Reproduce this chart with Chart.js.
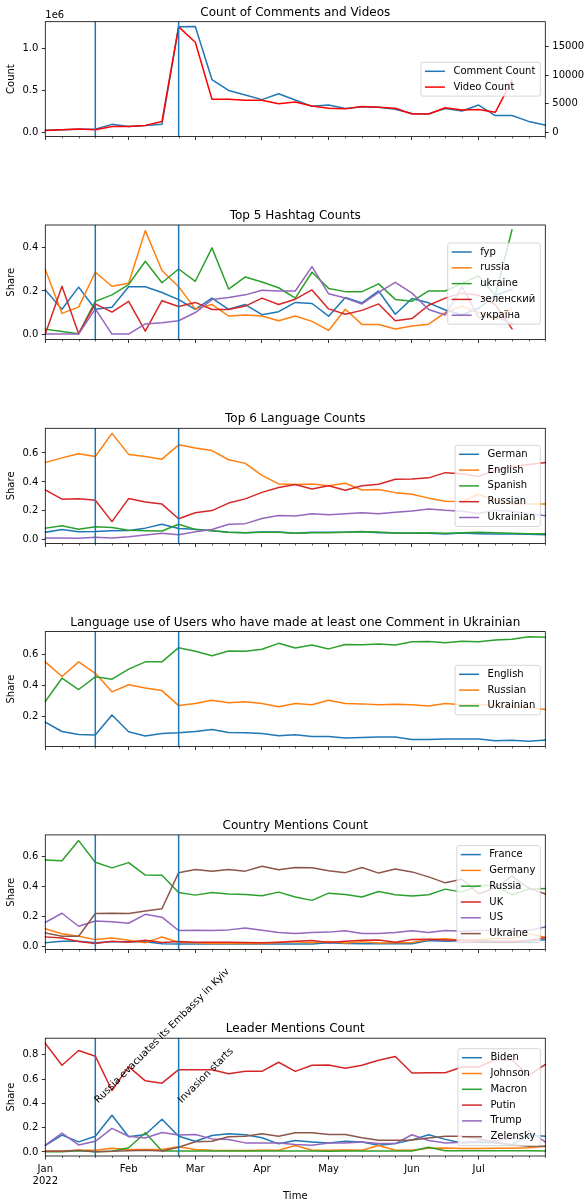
<!DOCTYPE html>
<html>
<head>
<meta charset="utf-8">
<script src="https://cdn.jsdelivr.net/npm/chart.js@4/dist/chart.umd.min.js"></script>
<style>
  html, body { margin: 0; padding: 0; background: #fff; }
  #fig { position: relative; width: 586px; height: 1203px; overflow: hidden; background: #fff; }
  #fig canvas { position: absolute; left: 0; }
</style>
</head>
<body>
<div id="fig"></div>
<script>
// weekly periods (Mon-Sun), first day of each week
const weeks = ['2021-12-27', '2022-01-03', '2022-01-10', '2022-01-17', '2022-01-24', '2022-01-31',
  '2022-02-07', '2022-02-14', '2022-02-21', '2022-02-28', '2022-03-07', '2022-03-14', '2022-03-21',
  '2022-03-28', '2022-04-04', '2022-04-11', '2022-04-18', '2022-04-25', '2022-05-02', '2022-05-09',
  '2022-05-16', '2022-05-23', '2022-05-30', '2022-06-06', '2022-06-13', '2022-06-20', '2022-06-27',
  '2022-07-04', '2022-07-11', '2022-07-18', '2022-07-25'];
const monthTickIdx = [0, 5, 9, 13, 17, 22, 26];
const monthTickText = [['Jan', '2022'], 'Feb', 'Mar', 'Apr', 'May', 'Jun', 'Jul'];
const eventWeeks = [3, 8];
const eventText = ['Russia evacuates its Embassy in Kyiv', 'Invasion starts'];

// panel 1
const commentCount = [25000, 30000, 38000, 38000, 95000, 70000, 80000, 97000, 1260000, 1262000, 630000, 500000, 445000,
  390000, 460000, 385000, 310000, 325000, 285000, 305000, 300000, 275000, 225000, 220000, 285000, 255000, 325000,
  200000, 200000, 130000, 85000];
const videoCount = [300, 450, 550, 420, 1000, 1000, 1200, 1900, 18500, 15800, 5800, 5800, 5600, 5600, 5000, 5300,
  4600, 4200, 4100, 4500, 4400, 4200, 3200, 3200, 4300, 3900, 4000, 3500, 9100];

// panel 2
const hashtagNames = ['fyp', 'russia', 'ukraine', 'зеленский', 'україна'];
const hashFyp = [0.205, 0.115, 0.218, 0.115, 0.125, 0.22, 0.22, 0.193, 0.16, 0.115, 0.167, 0.115, 0.137, 0.09, 0.104,
  0.147, 0.142, 0.083, 0.17, 0.145, 0.2, 0.092, 0.165, 0.145, 0.112, 0.09, 0.12, 0.18, 0.207];
const hashRussia = [0.30, 0.096, 0.125, 0.287, 0.222, 0.236, 0.48, 0.295, 0.22, 0.117, 0.137, 0.084, 0.089, 0.084,
  0.062, 0.084, 0.059, 0.017, 0.115, 0.045, 0.045, 0.024, 0.038, 0.046, 0.1, 0.13, 0.1, 0.07, 0.12];
const hashUkraine = [0.023, 0.012, 0.002, 0.152, 0.182, 0.23, 0.338, 0.238, 0.302, 0.245, 0.40, 0.209, 0.265, 0.242,
  0.215, 0.167, 0.287, 0.212, 0.197, 0.197, 0.233, 0.161, 0.152, 0.2, 0.2, 0.235, 0.27, 0.18, 0.483];
const hashZelensky = [0.0, 0.222, 0.002, 0.14, 0.102, 0.152, 0.014, 0.155, 0.128, 0.147, 0.114, 0.114, 0.13, 0.167,
  0.137, 0.162, 0.205, 0.117, 0.092, 0.11, 0.14, 0.062, 0.072, 0.134, 0.167, 0.19, 0.18, 0.137, 0.025];
const hashUkraina = [0, 0, 0, 0.117, 0, 0, 0.047, 0.053, 0.062, 0.1, 0.16, 0.17, 0.182, 0.203, 0.2, 0.2, 0.313, 0.187,
  0.167, 0.14, 0.194, 0.24, 0.19, 0.114, 0.089, 0.22, 0.077, 0.084, 0.047];

// panel 3
const langNames = ['German', 'English', 'Spanish', 'Russian', 'Ukrainian'];
const langGerman = [0.052, 0.072, 0.056, 0.058, 0.063, 0.065, 0.081, 0.108, 0.079, 0.074, 0.063, 0.052, 0.049, 0.054,
  0.054, 0.045, 0.052, 0.052, 0.052, 0.058, 0.05, 0.047, 0.045, 0.045, 0.04, 0.047, 0.043, 0.04, 0.04, 0.038, 0.036];
const langEnglish = [0.535, 0.566, 0.595, 0.575, 0.735, 0.59, 0.575, 0.557, 0.656, 0.634, 0.616, 0.553, 0.528, 0.445,
  0.386, 0.382, 0.386, 0.373, 0.391, 0.344, 0.348, 0.326, 0.315, 0.288, 0.267, 0.265, 0.315, 0.27, 0.25, 0.247, 0.247];
const langSpanish = [0.081, 0.097, 0.074, 0.09, 0.085, 0.067, 0.063, 0.061, 0.108, 0.072, 0.063, 0.052, 0.049, 0.052,
  0.052, 0.045, 0.049, 0.049, 0.052, 0.056, 0.054, 0.047, 0.047, 0.049, 0.045, 0.049, 0.052, 0.049, 0.045, 0.043, 0.043];
const langRussian = [0.344, 0.281, 0.283, 0.274, 0.126, 0.285, 0.261, 0.247, 0.146, 0.187, 0.202, 0.254, 0.283, 0.328,
  0.362, 0.382, 0.351, 0.373, 0.342, 0.373, 0.384, 0.418, 0.42, 0.428, 0.464, 0.457, 0.438, 0.479, 0.505, 0.52, 0.533];
const langUkrainian = [0.013, 0.013, 0.011, 0.018, 0.013, 0.022, 0.034, 0.045, 0.036, 0.056, 0.072, 0.108, 0.112,
  0.148, 0.169, 0.164, 0.18, 0.173, 0.18, 0.187, 0.18, 0.191, 0.2, 0.213, 0.204, 0.198, 0.182, 0.204, 0.198, 0.18, 0.167];

// panel 4
const uaUserNames = ['English', 'Russian', 'Ukrainian'];
const uaEnglish = [0.162, 0.101, 0.082, 0.078, 0.208, 0.099, 0.072, 0.088, 0.093, 0.101, 0.114, 0.095, 0.093, 0.088,
  0.074, 0.08, 0.069, 0.069, 0.059, 0.063, 0.065, 0.065, 0.05, 0.05, 0.053, 0.053, 0.053, 0.042, 0.044, 0.038, 0.046];
const uaRussian = [0.552, 0.457, 0.552, 0.478, 0.358, 0.404, 0.383, 0.366, 0.269, 0.282, 0.303, 0.288, 0.293, 0.282,
  0.261, 0.282, 0.274, 0.303, 0.282, 0.28, 0.274, 0.278, 0.274, 0.267, 0.282, 0.274, 0.278, 0.267, 0.265, 0.257, 0.244];
const uaUkrainian = [0.295, 0.446, 0.373, 0.455, 0.44, 0.505, 0.552, 0.552, 0.644, 0.621, 0.592, 0.623, 0.621, 0.634,
  0.672, 0.642, 0.661, 0.636, 0.665, 0.663, 0.667, 0.661, 0.682, 0.684, 0.676, 0.686, 0.682, 0.693, 0.699, 0.714, 0.712];

// panel 5
const countryNames = ['France', 'Germany', 'Russia', 'UK', 'US', 'Ukraine'];
const ctFrance = [0.022, 0.032, 0.032, 0.022, 0.028, 0.028, 0.028, 0.015, 0.013, 0.013, 0.013, 0.013, 0.013, 0.013,
  0.013, 0.013, 0.013, 0.022, 0.017, 0.015, 0.015, 0.015, 0.015, 0.037, 0.032, 0.035, 0.04, 0.032, 0.032, 0.032, 0.043];
const ctGermany = [0.115, 0.082, 0.065, 0.043, 0.054, 0.039, 0.022, 0.061, 0.026, 0.022, 0.017, 0.019, 0.017, 0.017,
  0.024, 0.028, 0.022, 0.03, 0.02, 0.028, 0.02, 0.022, 0.024, 0.043, 0.048, 0.039, 0.043, 0.05, 0.05, 0.083, 0.058];
const ctRussia = [0.574, 0.57, 0.704, 0.559, 0.522, 0.557, 0.474, 0.472, 0.357, 0.34, 0.357, 0.347, 0.344, 0.336, 0.36,
  0.327, 0.305, 0.353, 0.344, 0.327, 0.364, 0.343, 0.334, 0.343, 0.38, 0.36, 0.404, 0.404, 0.343, 0.38, 0.384];
const ctUK = [0.061, 0.054, 0.03, 0.017, 0.032, 0.026, 0.039, 0.024, 0.03, 0.026, 0.026, 0.026, 0.024, 0.022, 0.026,
  0.032, 0.037, 0.024, 0.032, 0.039, 0.041, 0.026, 0.043, 0.045, 0.041, 0.039, 0.03, 0.028, 0.028, 0.039, 0.056];
const ctUS = [0.158, 0.219, 0.132, 0.167, 0.162, 0.152, 0.212, 0.193, 0.104, 0.106, 0.104, 0.108, 0.121, 0.106, 0.091,
  0.084, 0.091, 0.093, 0.102, 0.084, 0.084, 0.09, 0.102, 0.091, 0.104, 0.098, 0.104, 0.104, 0.104, 0.104, 0.128];
const ctUkraine = [0.087, 0.065, 0.065, 0.217, 0.219, 0.217, 0.234, 0.249, 0.49, 0.511, 0.5, 0.511, 0.5, 0.533, 0.509,
  0.524, 0.522, 0.502, 0.49, 0.524, 0.487, 0.515, 0.495, 0.462, 0.422, 0.446, 0.349, 0.388, 0.467, 0.387, 0.348];

// panel 6
const leaderNames = ['Biden', 'Johnson', 'Macron', 'Putin', 'Trump', 'Zelensky'];
const ldBiden = [0.053, 0.139, 0.083, 0.13, 0.303, 0.125, 0.144, 0.27, 0.13, 0.089, 0.136, 0.15, 0.142, 0.117, 0.067,
  0.094, 0.083, 0.075, 0.089, 0.083, 0.056, 0.069, 0.1, 0.142, 0.104, 0.074, 0.08, 0.074, 0.06, 0.137, 0.13];
const ldJohnson = [0.008, 0.008, 0.014, 0.014, 0.03, 0.02, 0.02, 0.02, 0.044, 0.02, 0.014, 0.012, 0.012, 0.014, 0.014,
  0.053, 0.014, 0.014, 0.017, 0.014, 0.053, 0.014, 0.014, 0.03, 0.033, 0.028, 0.028, 0.03, 0.03, 0.035, 0.047];
const ldMacron = [0.003, 0.003, 0.011, 0.003, 0.006, 0.035, 0.158, 0.008, 0.008, 0.008, 0.008, 0.008, 0.008, 0.008,
  0.008, 0.008, 0.008, 0.006, 0.008, 0.008, 0.008, 0.008, 0.008, 0.039, 0.01, 0.01, 0.01, 0.01, 0.01, 0.01, 0.008];
const ldPutin = [0.894, 0.714, 0.836, 0.789, 0.506, 0.703, 0.586, 0.567, 0.678, 0.678, 0.678, 0.644, 0.664, 0.664,
  0.739, 0.664, 0.714, 0.717, 0.689, 0.714, 0.756, 0.787, 0.65, 0.652, 0.652, 0.7, 0.7, 0.76, 0.76, 0.63, 0.72];
const ldTrump = [0.056, 0.156, 0.058, 0.088, 0.195, 0.13, 0.115, 0.161, 0.139, 0.144, 0.108, 0.103, 0.075, 0.075, 0.075,
  0.061, 0.056, 0.075, 0.075, 0.083, 0.069, 0.069, 0.142, 0.095, 0.074, 0.08, 0.088, 0.093, 0.115, 0.176, 0.082];
const ldZelensky = [0.006, 0.006, 0.014, 0.003, 0.006, 0.011, 0.014, 0.008, 0.039, 0.085, 0.088, 0.125, 0.13, 0.15,
  0.13, 0.158, 0.158, 0.144, 0.144, 0.117, 0.097, 0.097, 0.099, 0.115, 0.129, 0.129, 0.11, 0.082, 0.06, 0.047, 0.047];

const tab = ['#1f77b4', '#ff7f0e', '#2ca02c', '#d62728', '#9467bd', '#8c564b'];
const FONT = '"DejaVu Sans", sans-serif';
Chart.defaults.font.family = FONT;
Chart.defaults.font.size = 10;
Chart.defaults.color = '#000';

const AX_LEFT = 45.3, AX_RIGHT = 545.3, AX_H = 117.8, AX_TOP0 = 21.7, AX_STEP = 203.3;
const shareFmt = v => v.toFixed(1);

const panels = [
  { title: 'Count of Comments and Videos', yLabel: 'Count', names: ['Comment Count', 'Video Count'],
    series: [commentCount, videoCount], colors: [tab[0], '#ff0000'], axes: ['y', 'y1'],
    yMin: -50000, yMax: 1320000, yTicks: [0, 500000, 1000000], yFmt: v => (v / 1e6).toFixed(1), legendTop: 40.6 },
  { title: 'Top 5 Hashtag Counts', yLabel: 'Share', names: hashtagNames,
    series: [hashFyp, hashRussia, hashUkraine, hashZelensky, hashUkraina],
    yMin: -0.025, yMax: 0.506, yTicks: [0, 0.2, 0.4], legendTop: 18 },
  { title: 'Top 6 Language Counts', yLabel: 'Share', names: langNames,
    series: [langGerman, langEnglish, langSpanish, langRussian, langUkrainian],
    yMin: -0.025, yMax: 0.77, yTicks: [0, 0.2, 0.4, 0.6], legendTop: 17 },
  { title: 'Language use of Users who have made at least one Comment in Ukrainian', yLabel: 'Share', names: uaUserNames,
    series: [uaEnglish, uaRussian, uaUkrainian],
    yMin: 0.004, yMax: 0.748, yTicks: [0.2, 0.4, 0.6], legendTop: 33.7 },
  { title: 'Country Mentions Count', yLabel: 'Share', names: countryNames,
    series: [ctFrance, ctGermany, ctRussia, ctUK, ctUS, ctUkraine],
    yMin: -0.023, yMax: 0.742, yTicks: [0, 0.2, 0.4, 0.6], legendTop: 10.7 },
  { title: 'Leader Mentions Count', yLabel: 'Share', names: leaderNames,
    series: [ldBiden, ldJohnson, ldMacron, ldPutin, ldTrump, ldZelensky],
    yMin: -0.033, yMax: 0.937, yTicks: [0, 0.2, 0.4, 0.6, 0.8], legendTop: 10.5, notes: true, noteY: 0.4 }
];

function drawLegend(chart, top) {
  const { ctx, chartArea: a } = chart;
  const ds = chart.data.datasets;
  ctx.save();
  ctx.font = '10px ' + FONT;
  const tw = Math.max(...ds.map(d => ctx.measureText(d.label).width));
  const w = 33 + tw + 4.5;
  const h = 18 + (ds.length - 1) * 15.8;
  const bx = a.right - 5 - w, by = a.top + top;
  ctx.beginPath();
  if (ctx.roundRect) ctx.roundRect(bx, by, w, h, 2); else ctx.rect(bx, by, w, h);
  ctx.fillStyle = 'rgba(255,255,255,0.8)';
  ctx.fill();
  ctx.strokeStyle = 'rgba(204,204,204,0.8)';
  ctx.lineWidth = 1;
  ctx.stroke();
  ds.forEach((d, i) => {
    const cy = by + 9 + i * 15.8;
    ctx.strokeStyle = d.borderColor;
    ctx.lineWidth = 1.5;
    ctx.beginPath();
    ctx.moveTo(bx + 4, cy);
    ctx.lineTo(bx + 24, cy);
    ctx.stroke();
    ctx.fillStyle = '#000';
    ctx.textAlign = 'left';
    ctx.textBaseline = 'middle';
    ctx.fillText(d.label, bx + 32.5, cy);
  });
  ctx.restore();
}

const fig = document.getElementById('fig');

panels.forEach((p, k) => {
  const last = k === panels.length - 1;
  const axTop = AX_TOP0 + AX_STEP * k;
  const canvasTop = Math.floor(axTop - (last ? 86 : 22));
  const padTop = axTop - canvasTop;
  const canvasH = last ? 1203 - canvasTop : Math.ceil(padTop + AX_H + 6);
  const xAxisH = canvasH - padTop - AX_H;

  const cv = document.createElement('canvas');
  cv.width = 586;
  cv.height = canvasH;
  cv.style.top = canvasTop + 'px';
  cv.style.width = '586px';
  cv.style.height = canvasH + 'px';
  fig.appendChild(cv);

  const n = p.series.length;
  const datasets = p.series.map((s, i) => ({
    label: p.names[i],
    data: s,
    borderColor: p.colors ? p.colors[i] : tab[i],
    backgroundColor: p.colors ? p.colors[i] : tab[i],
    borderWidth: 1.5,
    borderJoinStyle: 'round',
    borderCapStyle: 'square',
    pointRadius: 0,
    pointHoverRadius: 0,
    tension: 0,
    fill: false,
    order: n - i,
    yAxisID: p.axes ? p.axes[i] : 'y'
  }));

  const tickGrid = { drawOnChartArea: false, drawTicks: true, tickLength: 3.5, color: '#000', lineWidth: 0.8 };
  const scales = {
    x: {
      type: 'category',
      offset: false,
      afterFit: s => { s.height = xAxisH; },
      grid: {
        drawOnChartArea: false, drawTicks: true, tickLength: 3.5, lineWidth: 0.8, offset: false,
        // major (month) ticks only; weekly minor ticks are drawn shorter in the plugin
        color: c => monthTickIdx.includes(c.index) ? '#000' : 'rgba(0,0,0,0)'
      },
      border: { display: false },
      ticks: {
        display: last, autoSkip: false, maxRotation: 0, minRotation: 0, padding: 3.5, color: '#000',
        callback: (v, i) => { const j = monthTickIdx.indexOf(i); return j < 0 ? '' : monthTickText[j]; }
      },
      title: { display: last, text: 'Time', color: '#000', padding: { top: 0, bottom: 1 } }
    },
    y: {
      type: 'linear',
      position: 'left',
      min: p.yMin,
      max: p.yMax,
      afterFit: s => { s.width = AX_LEFT; },
      afterBuildTicks: s => { s.ticks = p.yTicks.map(v => ({ value: v })); },
      grid: tickGrid,
      border: { display: false },
      ticks: { padding: 3.5, color: '#000', callback: p.yFmt || shareFmt },
      title: { display: true, text: p.yLabel, color: '#000', padding: { top: 5, bottom: 0 } }
    }
  };
  if (k === 0) {
    scales.y1 = {
      type: 'linear',
      position: 'right',
      min: -750,
      max: 19400,
      afterFit: s => { s.width = 586 - AX_RIGHT; },
      afterBuildTicks: s => { s.ticks = [0, 5000, 10000, 15000].map(v => ({ value: v })); },
      grid: tickGrid,
      border: { display: false },
      ticks: { padding: 3.5, color: '#000', callback: v => String(v) }
    };
  }

  const decor = {
    id: 'decor' + k,
    afterDatasetsDraw(chart) {
      const { ctx, chartArea: a, scales: { x } } = chart;
      ctx.save();
      ctx.strokeStyle = tab[0];
      ctx.lineWidth = 1.5;
      eventWeeks.forEach(w => {
        const px = x.getPixelForValue(w);
        ctx.beginPath();
        ctx.moveTo(px, a.top);
        ctx.lineTo(px, a.bottom);
        ctx.stroke();
      });
      ctx.restore();
    },
    afterDraw(chart) {
      const { ctx, chartArea: a, scales: { x, y } } = chart;
      ctx.save();
      // weekly minor ticks
      ctx.strokeStyle = '#000';
      ctx.lineWidth = 0.6;
      weeks.forEach((w, i) => {
        if (monthTickIdx.includes(i)) return;
        const px = Math.round(x.getPixelForValue(i)) + 0.5;
        ctx.beginPath();
        ctx.moveTo(px, a.bottom);
        ctx.lineTo(px, a.bottom + 2);
        ctx.stroke();
      });
      // frame
      ctx.lineWidth = 0.8;
      ctx.strokeRect(a.left, a.top, a.right - a.left, a.bottom - a.top);
      // title
      ctx.fillStyle = '#000';
      ctx.font = '12px ' + FONT;
      ctx.textAlign = 'center';
      ctx.textBaseline = 'alphabetic';
      ctx.fillText(p.title, (a.left + a.right) / 2, a.top - 6);
      if (k === 0) {
        ctx.font = '10px ' + FONT;
        ctx.textAlign = 'left';
        ctx.fillText('1e6', a.left, a.top - 4.2);
      }
      if (p.notes) {
        ctx.font = '10px ' + FONT;
        ctx.textAlign = 'left';
        eventWeeks.forEach((w, i) => {
          ctx.save();
          ctx.translate(x.getPixelForValue(w) + 3, y.getPixelForValue(p.noteY));
          ctx.rotate(-Math.PI / 4);
          ctx.fillText(eventText[i], 0, 0);
          ctx.restore();
        });
      }
      ctx.restore();
      drawLegend(chart, p.legendTop);
    }
  };

  new Chart(cv.getContext('2d'), {
    type: 'line',
    data: { labels: weeks, datasets: datasets },
    options: {
      responsive: false,
      animation: false,
      devicePixelRatio: 1,
      layout: { padding: { left: 0, right: k === 0 ? 0 : 586 - AX_RIGHT, top: padTop, bottom: 0 } },
      plugins: { legend: { display: false }, tooltip: { enabled: false }, title: { display: false } },
      scales: scales
    },
    plugins: [decor]
  });
});
</script>
</body>
</html>
